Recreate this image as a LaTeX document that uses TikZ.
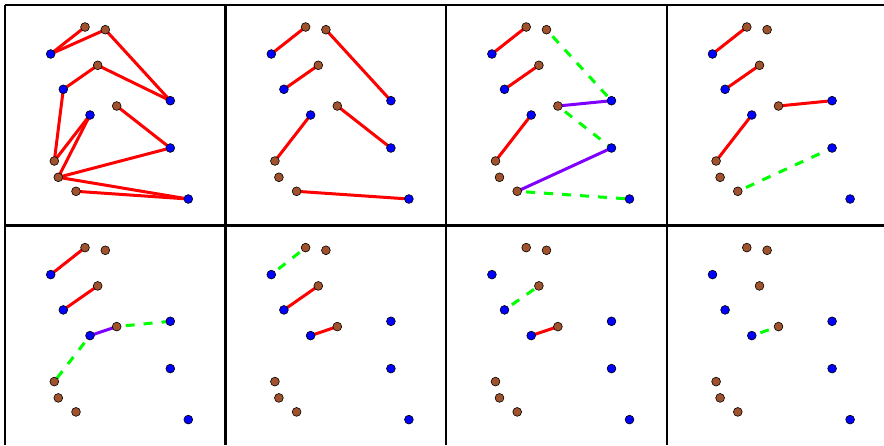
\documentclass[tikz,border=0pt]{standalone}
\usetikzlibrary{backgrounds}
\definecolor{sienna}{RGB}{160,82,45}
\definecolor{vlt}{RGB}{128,0,255}
\begin{document}
\begin{tikzpicture}[x=1pt, y=-1pt,
	bnode/.style={circle, fill=blue, draw=black, line width=0.6pt, inner sep=0pt, minimum size=8.8pt},
	rnode/.style={circle, fill=sienna, draw=black, line width=0.6pt, inner sep=0pt, minimum size=8.8pt},
	matched/.style={red, line width=3pt},
	aug/.style={vlt, line width=3pt},
	free/.style={green, line width=3pt, dash pattern=on 9pt off 9pt, dash phase=9pt}]
	\useasboundingbox (0,0) rectangle (884,445);
	
	% 1. 面板网格线
	\draw[line width=2.4pt] (5,5) -- (884,5);
	\draw[line width=2.4pt] (5,225.6) -- (884,225.6);
	\foreach \gx in {5, 225.6, 446.2, 666.8}
		\draw[line width=2.4pt] (\gx,5) -- (\gx,445);
	
	% 2. 每个面板的顶点 (蓝 = 左部, 棕 = 右部)
	\foreach \p/\dx/\dy in {1/0/0, 2/1/0, 3/2/0, 4/3/0, 5/0/1, 6/1/1, 7/2/1, 8/3/1} {
		\begin{scope}[shift={(220.6*\dx, 220.6*\dy)}]
			\node[bnode] (b1-\p) at (50.7,54) {};
			\node[bnode] (b2-\p) at (63.3,89.3) {};
			\node[bnode] (b3-\p) at (90,115) {};
			\node[bnode] (b4-\p) at (170.3,100.7) {};
			\node[bnode] (b5-\p) at (170.3,148) {};
			\node[bnode] (b6-\p) at (188.3,199) {};
			\node[rnode] (r1-\p) at (85,27) {};
			\node[rnode] (r2-\p) at (105.3,29.7) {};
			\node[rnode] (r3-\p) at (97.7,65.3) {};
			\node[rnode] (r4-\p) at (116.7,106) {};
			\node[rnode] (r5-\p) at (54.3,161) {};
			\node[rnode] (r6-\p) at (58.3,177.3) {};
			\node[rnode] (r7-\p) at (76,191.3) {};
		\end{scope}
	}
	
	% 3. 边 (放在背景层, 圆点压在上面)
	\begin{pgfonlayer}{background}
		% 面板 1
		\foreach \a/\b in {b1/r1, b1/r2, r2/b4, b4/r3, r3/b2, b2/r5, r5/b3, b3/r6, r4/b5, b5/r6, r6/b6, r7/b6}
			\draw[matched] (\a-1.center) -- (\b-1.center);
		% 面板 2
		\foreach \a/\b in {b1/r1, r2/b4, b2/r3, b3/r5, r4/b5, r7/b6}
			\draw[matched] (\a-2.center) -- (\b-2.center);
		% 面板 3
		\foreach \a/\b in {b1/r1, b2/r3, b3/r5}
			\draw[matched] (\a-3.center) -- (\b-3.center);
		\foreach \a/\b in {r4/b4, r7/b5}
			\draw[aug] (\a-3.center) -- (\b-3.center);
		\foreach \a/\b in {r2/b4, r4/b5, r7/b6}
			\draw[free] (\a-3.center) -- (\b-3.center);
		% 面板 4
		\foreach \a/\b in {b1/r1, b2/r3, r4/b4, b3/r5}
			\draw[matched] (\a-4.center) -- (\b-4.center);
		\draw[free] (r7-4.center) -- (b5-4.center);
		% 面板 5
		\foreach \a/\b in {b1/r1, b2/r3}
			\draw[matched] (\a-5.center) -- (\b-5.center);
		\draw[aug] (b3-5.center) -- (r4-5.center);
		\foreach \a/\b in {r4/b4, b3/r5}
			\draw[free] (\a-5.center) -- (\b-5.center);
		% 面板 6
		\draw[free] (b1-6.center) -- (r1-6.center);
		\foreach \a/\b in {b2/r3, b3/r4}
			\draw[matched] (\a-6.center) -- (\b-6.center);
		% 面板 7
		\draw[free] (b2-7.center) -- (r3-7.center);
		\draw[matched] (b3-7.center) -- (r4-7.center);
		% 面板 8
		\draw[free] (b3-8.center) -- (r4-8.center);
	\end{pgfonlayer}
\end{tikzpicture}
\end{document}
